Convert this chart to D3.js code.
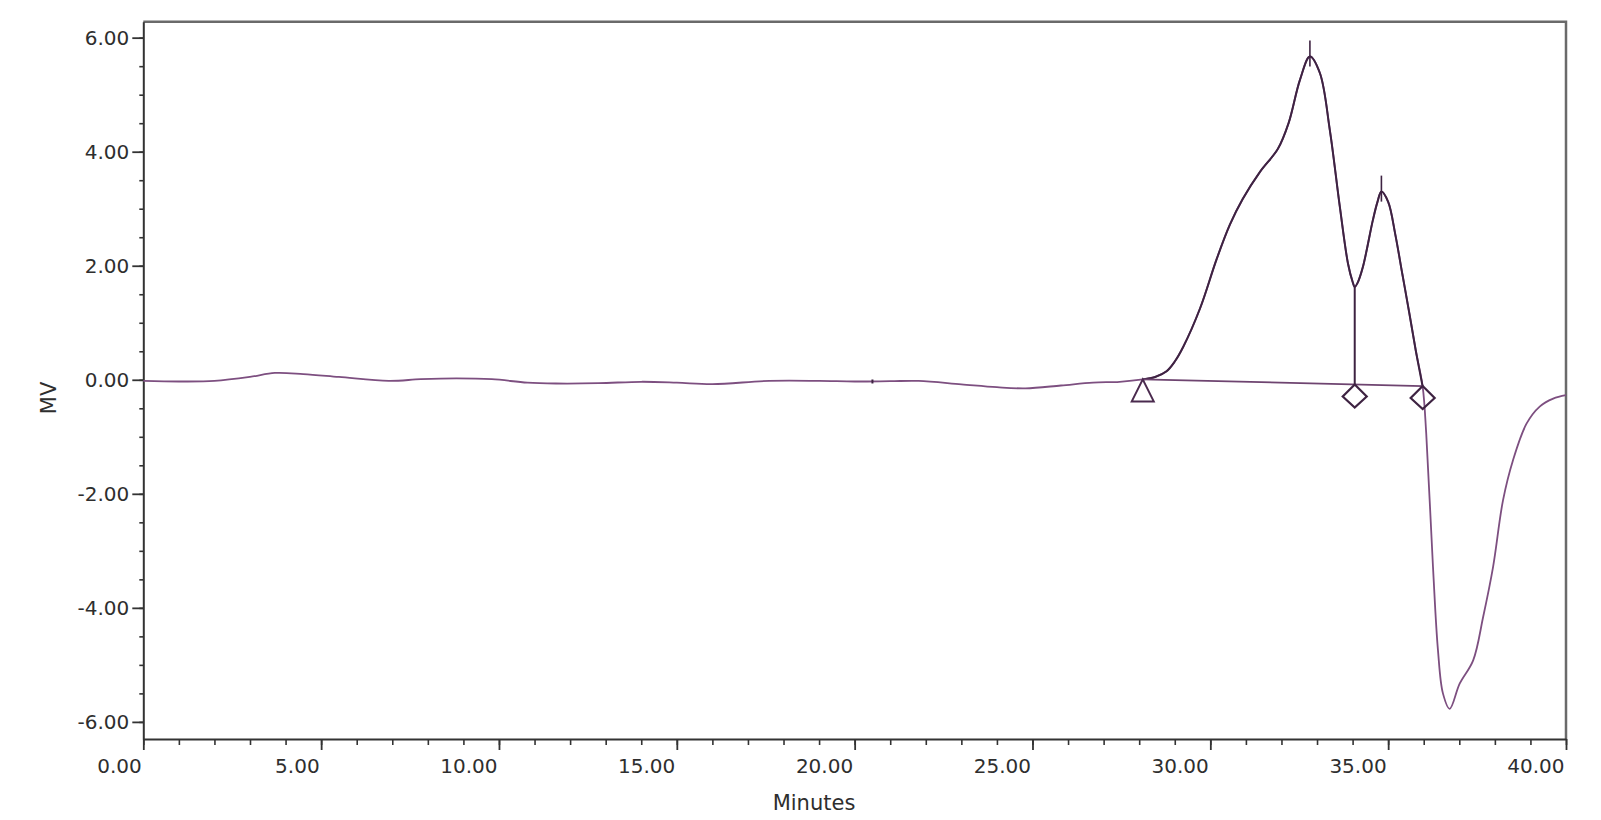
<!DOCTYPE html>
<html>
<head>
<meta charset="utf-8">
<script src="https://cdn.jsdelivr.net/npm/d3@7"></script>
<style>
  html, body { margin: 0; padding: 0; background: #ffffff; }
  svg { display: block; }
  text { font-family: "DejaVu Sans", "Liberation Sans", sans-serif; fill: #2e2e2e; }
</style>
</head>
<body>
<svg id="chart" width="1601" height="820"></svg>
<script>
// ---- Data ----
const timeMin = [0, 1, 2, 3, 3.7, 4.5, 5.5, 6.9, 7.8, 8.8, 9.8, 10.8, 11.6, 12.8, 14.0, 15.0, 16.0, 17.6, 19.0, 20.0, 21.0, 21.8, 23.0, 24.0, 24.8, 25.8, 26.7, 27.45,
  28.1, 28.45, 28.77, 29.0, 29.24, 29.71, 30.18, 30.55, 30.91, 31.4, 31.9, 32.2, 32.52, 32.8, 33.08, 33.36, 33.64, 33.87, 34.0, 34.06, 34.14, 34.29, 34.57, 34.7, 34.81, 35.0, 35.2, 35.4, 35.6, 35.78, 35.97,
  36.07, 36.26, 36.40, 36.54, 36.73, 37.01, 37.39, 37.67, 37.95, 38.23, 38.51, 38.89, 39.26, 39.64, 40.0];
const signalMV = [-0.02, -0.03, -0.02, 0.05, 0.12, 0.10, 0.05, -0.02, 0.01, 0.025, 0.01, -0.05, -0.065, -0.06, -0.035, -0.05, -0.075, -0.02, -0.02, -0.03, -0.025, -0.02, -0.08, -0.13, -0.15, -0.10, -0.05, -0.035,
  0.007, 0.05, 0.15, 0.32, 0.58, 1.25, 2.12, 2.72, 3.17, 3.65, 4.05, 4.50, 5.26, 5.67, 5.38, 4.38, 3.04, 2.04, 1.72, 1.63, 1.70, 1.98, 2.80, 3.12, 3.30, 3.12, 2.55, 1.85, 1.15, 0.50, -0.12,
  -0.94, -3.28, -4.74, -5.50, -5.77, -5.33, -4.92, -4.16, -3.28, -2.11, -1.41, -0.77, -0.47, -0.33, -0.27];

// integration events
const peakStart = 28.1, peakStartMV = 0.007;     // triangle
const dropTimes = [34.06, 35.97];                // diamonds
const dropBaseMV = [-0.082, -0.11];
const valleyMV = 1.63;
const apexTimes = [32.8, 34.81];
const apexMV = [5.67, 3.30];
const smallMarkTime = 20.5, smallMarkMV = -0.03;

const xTickMajor = [0, 5, 10, 15, 20, 25, 30, 35, 40];
const xTickMinor = d3.range(0, 41, 1);
const yTickMajor = [-6, -4, -2, 0, 2, 4, 6];
const yTickMinor = d3.range(-6, 6.01, 0.5);
const xTitle = "Minutes", yTitle = "MV";

// ---- Layout ----
const svg = d3.select("#chart");
const L = 143.3, R = 1566, T = 21.7, B = 739;
const x = d3.scaleLinear().domain([0, 40]).range([L, R]);
const y = d3.scaleLinear().domain([-6.3, 6.28]).range([B, T]);
const fmt = d => d3.format(".2f")(d).replace("\u2212", "-");

// frame top/right
svg.append("path")
  .attr("d", `M${L},${T}H${R}V${B}`)
  .attr("fill", "none").attr("stroke", "#6a6a6a").attr("stroke-width", 2.5);

// x minor ticks
const gx = svg.append("g").attr("transform", `translate(0,${B})`);
gx.call(d3.axisBottom(x).tickValues(xTickMinor).tickSize(6).tickFormat(""))
  .call(g => g.select(".domain").remove())
  .selectAll("line").attr("stroke", "#333").attr("stroke-width", 1.6);
const gx2 = svg.append("g").attr("transform", `translate(0,${B})`);
gx2.call(d3.axisBottom(x).tickValues(xTickMajor).tickSize(11).tickSizeOuter(0).tickFormat(fmt).tickPadding(9))
  .call(g => g.select(".domain").attr("stroke", "#333").attr("stroke-width", 2))
  .call(g => g.selectAll("line").attr("stroke", "#333").attr("stroke-width", 1.8))
  .call(g => g.selectAll("text")
      .attr("text-anchor", "end").attr("x", -2)
      .attr("font-size", 20).attr("fill", "#2e2e2e")
      .style("font-family", '"DejaVu Sans", sans-serif'));

// y axis
const gy = svg.append("g").attr("transform", `translate(${L},0)`);
gy.call(d3.axisLeft(y).tickValues(yTickMinor).tickSize(4).tickFormat(""))
  .call(g => g.select(".domain").remove())
  .selectAll("line").attr("stroke", "#333").attr("stroke-width", 1.6);
const gy2 = svg.append("g").attr("transform", `translate(${L},0)`);
gy2.call(d3.axisLeft(y).tickValues(yTickMajor).tickSize(11).tickSizeOuter(0).tickFormat(fmt).tickPadding(3))
  .call(g => g.select(".domain").attr("stroke", "#333").attr("stroke-width", 2))
  .call(g => g.selectAll("line").attr("stroke", "#333").attr("stroke-width", 1.8))
  .call(g => g.selectAll("text")
      .attr("font-size", 20).attr("fill", "#2e2e2e")
      .style("font-family", '"DejaVu Sans", sans-serif'));

// titles
svg.append("text").attr("x", 814).attr("y", 810)
  .attr("text-anchor", "middle").attr("font-size", 21).text(xTitle);
svg.append("text").attr("transform", `translate(56,398) rotate(-90)`)
  .attr("text-anchor", "middle").attr("font-size", 21).text(yTitle);

// ---- Curve ----
const pts = timeMin.map((t, i) => [t, signalMV[i]]);
const line = d3.line().x(d => x(d[0])).y(d => y(d[1])).curve(d3.curveCatmullRom.alpha(0.5));
svg.append("path").attr("d", line(pts))
  .attr("fill", "none").attr("stroke", "#7d4f80").attr("stroke-width", 1.8);

// integrated section darker overlay
const peakPts = pts.filter(d => d[0] >= peakStart && d[0] <= dropTimes[1]);
svg.append("path").attr("d", line(peakPts))
  .attr("fill", "none").attr("stroke", "#3e2342").attr("stroke-width", 2);

// integration baseline
svg.append("line")
  .attr("x1", x(peakStart)).attr("y1", y(peakStartMV))
  .attr("x2", x(dropTimes[1])).attr("y2", y(dropBaseMV[1]))
  .attr("stroke", "#6e4470").attr("stroke-width", 1.8);

// drop line at valley
svg.append("line")
  .attr("x1", x(dropTimes[0])).attr("y1", y(valleyMV))
  .attr("x2", x(dropTimes[0])).attr("y2", y(dropBaseMV[0]))
  .attr("stroke", "#3e2342").attr("stroke-width", 2);

// apex ticks
apexTimes.forEach((t, i) => {
  svg.append("line")
    .attr("x1", x(t)).attr("x2", x(t))
    .attr("y1", y(apexMV[i]) - 16).attr("y2", y(apexMV[i]) + 10)
    .attr("stroke", "#3e2342").attr("stroke-width", 1.6);
});

// small mark on baseline
svg.append("line")
  .attr("x1", x(smallMarkTime)).attr("x2", x(smallMarkTime))
  .attr("y1", y(smallMarkMV) - 2).attr("y2", y(smallMarkMV) + 2)
  .attr("stroke", "#3e2342").attr("stroke-width", 2);

// triangle at peak start
const tx = x(peakStart), ty = y(peakStartMV);
svg.append("path")
  .attr("d", `M${tx},${ty}L${tx + 11},${ty + 22}L${tx - 11},${ty + 22}Z`)
  .attr("fill", "none").attr("stroke", "#4a2a4e").attr("stroke-width", 2);

// diamonds at drop points
dropTimes.forEach((t, i) => {
  const cx = x(t), cy = y(dropBaseMV[i]) + 12;
  svg.append("path")
    .attr("d", `M${cx},${cy - 12}L${cx + 12},${cy}L${cx},${cy + 11}L${cx - 12},${cy}Z`)
    .attr("fill", "none").attr("stroke", "#3e2342").attr("stroke-width", 2.2);
});
</script>
</body>
</html>
